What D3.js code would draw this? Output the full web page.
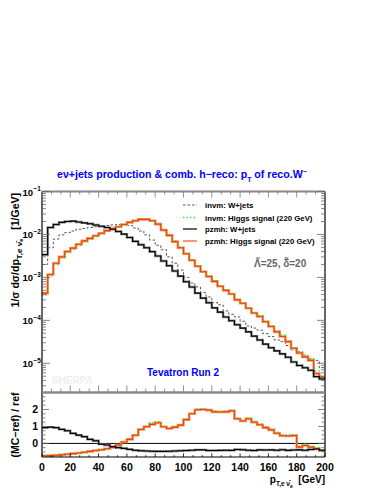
<!DOCTYPE html>
<html><head><meta charset="utf-8">
<script src="https://cdn.jsdelivr.net/npm/d3@7"></script>
<style>
body{margin:0;background:#fff;}
svg{display:block;font-family:"Liberation Sans",Arial,Helvetica,sans-serif;font-weight:bold;}
</style></head><body>
<svg id="c" width="382" height="494"></svg>
<script>
// ---------- data ----------
const binEdges = d3.range(0, 204, 4); // 51 edges, 4 GeV bins 0..200
const invmW = [2.0e-3,4.9e-3,7.8e-3,9.8e-3,1.10e-2,1.20e-2,1.32e-2,1.38e-2,1.45e-2,1.51e-2,
  1.58e-2,1.62e-2,1.66e-2,1.70e-2,1.72e-2,1.62e-2,1.41e-2,1.20e-2,9.8e-3,7.4e-3,
  5.6e-3,4.4e-3,3.0e-3,2.14e-3,1.48e-3,1.0e-3,7.4e-4,6.0e-4,4.4e-4,3.5e-4,
  2.6e-4,2.3e-4,1.66e-4,1.38e-4,1.20e-4,9.5e-5,7.4e-5,6.6e-5,5.9e-5,4.9e-5,
  4.2e-5,3.5e-5,3.2e-5,2.6e-5,2.04e-5,1.86e-5,1.55e-5,1.29e-5,1.17e-5,7.9e-6];
const invmH = [3.9e-4,1.08e-3,2.0e-3,2.85e-3,3.8e-3,4.6e-3,5.6e-3,6.8e-3,7.8e-3,9.0e-3,
  1.04e-2,1.20e-2,1.36e-2,1.50e-2,1.69e-2,1.90e-2,2.10e-2,2.27e-2,2.26e-2,2.10e-2,
  1.76e-2,1.27e-2,9.6e-3,6.9e-3,5.0e-3,3.6e-3,2.55e-3,1.85e-3,1.37e-3,1.07e-3,
  8.3e-4,6.3e-4,5.1e-4,4.2e-4,3.1e-4,2.55e-4,1.95e-4,1.5e-4,1.3e-4,9.6e-5,
  7.4e-5,5.8e-5,4.5e-5,3.3e-5,2.3e-5,1.8e-5,1.45e-5,1.25e-5,6.6e-6,5.0e-6];
const pzmhW = [3.39e-3,1.45e-2,1.70e-2,1.91e-2,2.00e-2,2.04e-2,1.95e-2,1.86e-2,1.78e-2,1.66e-2,
  1.55e-2,1.45e-2,1.32e-2,1.17e-2,1.02e-2,8.5e-3,6.9e-3,5.75e-3,4.9e-3,3.98e-3,
  3.16e-3,2.40e-3,1.86e-3,1.41e-3,1.07e-3,7.9e-4,6.0e-4,4.3e-4,3.3e-4,2.57e-4,
  1.95e-4,1.55e-4,1.20e-4,9.8e-5,7.9e-5,6.6e-5,5.4e-5,4.3e-5,3.5e-5,2.8e-5,
  2.3e-5,1.95e-5,1.66e-5,1.38e-5,1.07e-5,8.9e-6,7.9e-6,6.9e-6,4.9e-6,4.3e-6];
const pzmhH = [4.3e-4,1.17e-3,2.14e-3,3.0e-3,4.0e-3,4.8e-3,5.9e-3,7.1e-3,8.1e-3,9.3e-3,
  1.07e-2,1.23e-2,1.38e-2,1.51e-2,1.70e-2,1.91e-2,2.09e-2,2.24e-2,2.24e-2,2.09e-2,
  1.74e-2,1.26e-2,9.5e-3,6.8e-3,4.9e-3,3.55e-3,2.5e-3,1.82e-3,1.35e-3,1.05e-3,
  8.1e-4,6.2e-4,5.0e-4,4.1e-4,3.0e-4,2.5e-4,1.91e-4,1.48e-4,1.23e-4,9.3e-5,
  7.2e-5,5.4e-5,4.2e-5,3.2e-5,2.24e-5,1.74e-5,1.41e-5,1.17e-5,5.8e-6,4.7e-6];
const ratioW = [0.93,0.96,0.93,0.83,0.75,0.59,0.49,0.40,0.24,0.16,
  -0.04,-0.09,-0.19,-0.25,-0.29,-0.35,-0.40,-0.43,-0.45,-0.46,
  -0.47,-0.47,-0.46,-0.45,-0.43,-0.42,-0.40,-0.38,-0.38,-0.42,
  -0.42,-0.41,-0.40,-0.41,-0.36,-0.37,-0.40,-0.42,-0.38,-0.39,
  -0.38,-0.40,-0.37,-0.41,-0.39,-0.38,-0.40,-0.36,-0.33,-0.40];
const ratioH = [-0.73,-0.72,-0.70,-0.67,-0.64,-0.60,-0.56,-0.52,-0.47,-0.42,
  -0.37,-0.31,-0.24,-0.10,0.08,0.24,0.48,0.82,0.98,1.12,
  1.22,0.98,0.88,0.96,1.08,1.40,1.75,1.98,2.00,1.96,
  1.86,1.85,1.86,1.92,1.45,1.32,1.45,1.25,1.10,0.93,
  0.80,0.60,0.45,0.44,0.46,-0.22,-0.12,-0.22,-0.30,-0.42];
const ratioHinvm = [-0.75,-0.74,-0.71,-0.68,-0.65,-0.61,-0.57,-0.53,-0.48,-0.43,
  -0.38,-0.32,-0.24,-0.11,0.07,0.25,0.50,0.85,1.02,1.22,
  1.28,1.00,0.92,0.98,1.10,1.42,1.78,2.02,2.04,2.00,
  1.90,1.88,1.90,1.95,1.50,1.36,1.50,1.30,1.14,0.98,
  0.85,0.66,0.50,0.50,0.50,-0.15,-0.05,-0.18,-0.24,-0.38];
const xTicks = [0,20,40,60,80,100,120,140,160,180,200];
const yMainTicks = [1e-5,1e-4,1e-3,1e-2,1e-1];
const yMainExp = ["\u22125","\u22124","\u22123","\u22122","\u22121"];
const ratioTicks = [0,1,2];
const legendLabels = ["invm: W+jets","invm: Higgs signal (220 GeV)","pzmh: W+jets","pzmh: Higgs signal (220 GeV)"];

// ---------- scales ----------
const svg = d3.select("#c");
const L = 42, R = 325, T = 191.5, MB = 392.5, RB = 457;
const x = d3.scaleLinear().domain([0,200]).range([L,R]);
const y = d3.scaleLog().domain([Math.pow(10,-5.68),0.1]).range([MB,T]);
const yr = d3.scaleLinear().domain([-0.8,3.0]).range([RB,MB]);

function steps(vals){
  const pts = vals.map((v,i)=>[binEdges[i],v]);
  pts.push([binEdges[vals.length], vals[vals.length-1]]);
  return pts;
}
const lineMain = d3.line().x(d=>x(d[0])).y(d=>y(d[1])).curve(d3.curveStepAfter);
const lineRat = d3.line().x(d=>x(d[0])).y(d=>yr(d[1])).curve(d3.curveStepAfter);

const COL = {orange:"#ff3c00", salmon:"#ff9777", green:"#33ee33", gray:"#8a8a8a", dash:"#555"};

// ---------- main panel curves ----------
const gm = svg.append("g");
gm.append("path").attr("d", lineMain(steps(invmW))).attr("fill","none").attr("stroke",COL.dash).attr("stroke-width",1).attr("stroke-dasharray","2.5,2");
gm.append("path").attr("d", lineMain(steps(pzmhH))).attr("fill","none").attr("stroke",COL.salmon).attr("stroke-width",2.6);
gm.append("path").attr("d", lineMain(steps(pzmhW))).attr("fill","none").attr("stroke",COL.gray).attr("stroke-width",2.4);
gm.append("path").attr("d", lineMain(steps(invmH))).attr("fill","none").attr("stroke",COL.green).attr("stroke-width",1.6).attr("stroke-dasharray","1.5,2");
gm.append("path").attr("d", lineMain(steps(pzmhH))).attr("fill","none").attr("stroke",COL.orange).attr("stroke-width",1.1);
gm.append("path").attr("d", lineMain(steps(pzmhW))).attr("fill","none").attr("stroke","#000").attr("stroke-width",1.1);

// ---------- ratio panel curves ----------
const gr = svg.append("g");
gr.append("line").attr("x1",L).attr("x2",R).attr("y1",yr(0)).attr("y2",yr(0)).attr("stroke","#000").attr("stroke-width",1);
gr.append("path").attr("d", lineRat(steps(ratioH))).attr("fill","none").attr("stroke",COL.salmon).attr("stroke-width",2.6);
gr.append("path").attr("d", lineRat(steps(ratioW))).attr("fill","none").attr("stroke",COL.gray).attr("stroke-width",2.4);
gr.append("path").attr("d", lineRat(steps(ratioHinvm))).attr("fill","none").attr("stroke",COL.green).attr("stroke-width",1.6).attr("stroke-dasharray","1.5,2");
gr.append("path").attr("d", lineRat(steps(ratioH))).attr("fill","none").attr("stroke",COL.orange).attr("stroke-width",1.1);
gr.append("path").attr("d", lineRat(steps(ratioW))).attr("fill","none").attr("stroke","#000").attr("stroke-width",1.1);

// ---------- frames & ticks ----------
const gf = svg.append("g").attr("stroke","#000").attr("fill","none");
gf.append("line").attr("x1",L).attr("x2",L).attr("y1",T).attr("y2",RB).attr("stroke-width",1.2);
gf.append("line").attr("x1",R).attr("x2",R).attr("y1",T).attr("y2",RB).attr("stroke-width",1.2);
gf.append("line").attr("x1",L).attr("x2",R).attr("y1",T).attr("y2",T).attr("stroke","#888").attr("stroke-width",2);
gf.append("line").attr("x1",L).attr("x2",R).attr("y1",MB).attr("y2",MB).attr("stroke","#888").attr("stroke-width",2.5);
gf.append("line").attr("x1",L).attr("x2",R).attr("y1",RB).attr("y2",RB).attr("stroke-width",1.2);

const xMinor = d3.range(0, 201, 20/3);
xMinor.forEach(v=>{
  const major = Math.abs(v/20 - Math.round(v/20))<1e-6;
  const len = major?6:3;
  gf.append("line").attr("x1",x(v)).attr("x2",x(v)).attr("y1",T).attr("y2",T+len).attr("stroke","#777").attr("stroke-width",0.8);
  gf.append("line").attr("x1",x(v)).attr("x2",x(v)).attr("y1",MB-1).attr("y2",MB-1-len).attr("stroke","#777").attr("stroke-width",0.8);
  gf.append("line").attr("x1",x(v)).attr("x2",x(v)).attr("y1",RB).attr("y2",RB-len*0.6).attr("stroke","#000").attr("stroke-width",0.8);
});
for(let e=-6;e<=-1;e++){
  for(let m=1;m<=9;m++){
    const v = m*Math.pow(10,e);
    if(v<y.domain()[0]||v>0.1+1e-12) continue;
    const len = m===1?8:4;
    gf.append("line").attr("x1",L).attr("x2",L+len).attr("y1",y(v)).attr("y2",y(v)).attr("stroke","#666").attr("stroke-width",0.8);
    gf.append("line").attr("x1",R).attr("x2",R-len).attr("y1",y(v)).attr("y2",y(v)).attr("stroke","#666").attr("stroke-width",0.8);
  }
}
d3.range(-0.75, 3.0, 0.25).forEach(v=>{
  const major = Math.abs(v-Math.round(v))<1e-6;
  const len = major?7:3.5;
  gf.append("line").attr("x1",L).attr("x2",L+len).attr("y1",yr(v)).attr("y2",yr(v)).attr("stroke","#666").attr("stroke-width",0.8);
  gf.append("line").attr("x1",R).attr("x2",R-len).attr("y1",yr(v)).attr("y2",yr(v)).attr("stroke","#666").attr("stroke-width",0.8);
});

// ---------- tick labels ----------
const gt = svg.append("g").attr("fill","#000");
xTicks.forEach(v=>{
  gt.append("text").attr("x",x(v)).attr("y",470.5).attr("text-anchor","middle").attr("font-size",10.5).text(v);
});
yMainTicks.forEach((v,i)=>{
  gt.append("text").attr("x",33).attr("y",y(v)+4).attr("text-anchor","end").attr("font-size",9.5).text("10");
  gt.append("text").attr("x",33.5).attr("y",y(v)-0.5).attr("font-size",6.5).text(yMainExp[i]);
});
ratioTicks.forEach(v=>{
  gt.append("text").attr("x",38).attr("y",yr(v)+4).attr("text-anchor","end").attr("font-size",10.5).text(v);
});

// ---------- axis titles ----------
const yt = svg.append("text").attr("transform","translate(18.5,193) rotate(-90)").attr("text-anchor","end").attr("font-size",10.5);
yt.append("tspan").text("1/\u03c3 d\u03c3/dp");
yt.append("tspan").attr("font-size",8).attr("dy",3).text("T,e\u00a0\u03bd\u0304");
yt.append("tspan").attr("font-size",6).attr("dy",1.5).text("e");
yt.append("tspan").attr("dy",-4.5).text("\u00a0\u00a0\u00a0[1/GeV]");

svg.append("text").attr("transform","translate(18.5,425) rotate(-90)").attr("text-anchor","middle").attr("font-size",10.5).text("(MC\u2212ref) / ref");

const xt = svg.append("text").attr("x",325).attr("y",483).attr("text-anchor","end").attr("font-size",10);
xt.append("tspan").text("p");
xt.append("tspan").attr("font-size",6.5).attr("dy",3).text("T,e\u00a0\u03bd\u0304");
xt.append("tspan").attr("font-size",5).attr("dy",1.5).text("e");
xt.append("tspan").attr("dy",-4.5).text("\u00a0\u00a0[GeV]");

// ---------- title ----------
const tt = svg.append("text").attr("x",57).attr("y",178).attr("fill","#0000ff").attr("font-size",10.6);
tt.append("tspan").text("e\u03bd+jets production & comb. h\u2212reco: p");
tt.append("tspan").attr("font-size",7).attr("dy",3.5).text("T");
tt.append("tspan").attr("dy",-3.5).text(" of reco.W");
tt.append("tspan").attr("font-size",7).attr("dy",-4.5).text("\u2212");

// ---------- legend ----------
const legY = [205, 217.5, 229, 241];
const legStyles = [
  {c:COL.dash,w:1,d:"2.5,2"},
  {c:COL.green,w:1.6,d:"1.5,2"},
  {c:"#000",w:1.2,d:null},
  {c:COL.salmon,w:2,d:null}
];
legendLabels.forEach((lab,i)=>{
  const s = legStyles[i];
  const ln = svg.append("line").attr("x1",183).attr("x2",197).attr("y1",legY[i]).attr("y2",legY[i]).attr("stroke",s.c).attr("stroke-width",s.w);
  if(s.d) ln.attr("stroke-dasharray",s.d);
  svg.append("text").attr("x",205).attr("y",legY[i]+3).attr("font-size",7.8).attr("fill","#000").text(lab);
});

// ---------- annotations ----------
svg.append("text").attr("x",254).attr("y",267).attr("font-size",10).attr("fill","#666").text("\u039b\u0303=25, \u03b4\u0303=20");
svg.append("text").attr("x",147).attr("y",376).attr("font-size",10).attr("fill","#0000ff").text("Tevatron Run 2");
svg.append("text").attr("x",52).attr("y",384).attr("font-size",10).attr("fill","#eeeeee").text("SHERPA");
</script>
</body></html>
